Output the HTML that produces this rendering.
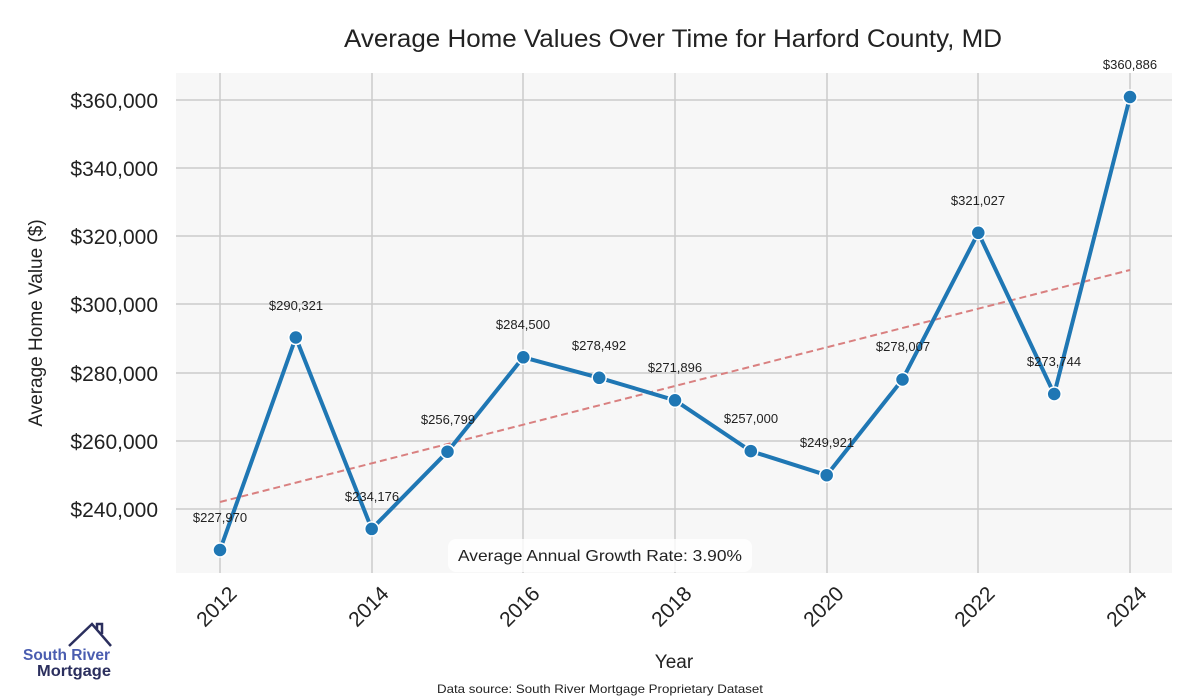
<!DOCTYPE html>
<html><head><style>body{margin:0;background:#fff}svg{display:block}</style></head><body>
<svg width="1200" height="700" xmlns="http://www.w3.org/2000/svg" font-family="Liberation Sans, sans-serif">
<rect width="1200" height="700" fill="#fff"/>
<rect x="176" y="73" width="996" height="500" fill="#f7f7f7"/>
<g stroke="#cccccc" stroke-width="1.5">
<line x1="220" y1="73" x2="220" y2="573"/><line x1="372" y1="73" x2="372" y2="573"/><line x1="523" y1="73" x2="523" y2="573"/><line x1="675" y1="73" x2="675" y2="573"/><line x1="827" y1="73" x2="827" y2="573"/><line x1="978" y1="73" x2="978" y2="573"/><line x1="1130" y1="73" x2="1130" y2="573"/>
<line x1="176" y1="100" x2="1172" y2="100"/><line x1="176" y1="168" x2="1172" y2="168"/><line x1="176" y1="236" x2="1172" y2="236"/><line x1="176" y1="304" x2="1172" y2="304"/><line x1="176" y1="373" x2="1172" y2="373"/><line x1="176" y1="441" x2="1172" y2="441"/><line x1="176" y1="509" x2="1172" y2="509"/>
</g>
<g font-size="21" fill="#222" text-anchor="end">
<text x="158" y="108">$360,000</text><text x="158" y="176">$340,000</text><text x="158" y="244">$320,000</text><text x="158" y="312">$300,000</text><text x="158" y="381">$280,000</text><text x="158" y="449">$260,000</text><text x="158" y="517">$240,000</text>
</g>
<g font-size="21" fill="#222" text-anchor="end">
<text transform="translate(238,595) rotate(-45)">2012</text>
<text transform="translate(390,595) rotate(-45)">2014</text>
<text transform="translate(541,595) rotate(-45)">2016</text>
<text transform="translate(693,595) rotate(-45)">2018</text>
<text transform="translate(845,595) rotate(-45)">2020</text>
<text transform="translate(996,595) rotate(-45)">2022</text>
<text transform="translate(1148,595) rotate(-45)">2024</text>
</g>
<text x="674" y="668" font-size="19" fill="#222" text-anchor="middle">Year</text>
<text transform="translate(42,323) rotate(-90)" font-size="19" fill="#222" text-anchor="middle">Average Home Value ($)</text>
<text x="344" y="47" font-size="25" fill="#222" textLength="658" lengthAdjust="spacingAndGlyphs">Average Home Values Over Time for Harford County, MD</text>
<text x="437" y="693" font-size="12" fill="#222" textLength="326" lengthAdjust="spacingAndGlyphs">Data source: South River Mortgage Proprietary Dataset</text>
<line x1="220" y1="502" x2="1130" y2="270" stroke="#d98080" stroke-width="2" stroke-dasharray="7,4"/>
<polyline fill="none" stroke="#1f77b4" stroke-width="4" stroke-linejoin="round" points="220,550 295.8,337.5 371.7,528.9 447.5,451.7 523.3,357.3 599.2,377.8 675,400.3 750.8,451.1 826.7,475.2 902.5,379.5 978.3,232.8 1054.2,394 1130,97"/>
<g fill="#1f77b4" stroke="#fff" stroke-width="1.5">
<circle cx="220" cy="550" r="7"/><circle cx="295.8" cy="337.5" r="7"/><circle cx="371.7" cy="528.9" r="7"/><circle cx="447.5" cy="451.7" r="7"/><circle cx="523.3" cy="357.3" r="7"/><circle cx="599.2" cy="377.8" r="7"/><circle cx="675" cy="400.3" r="7"/><circle cx="750.8" cy="451.1" r="7"/><circle cx="826.7" cy="475.2" r="7"/><circle cx="902.5" cy="379.5" r="7"/><circle cx="978.3" cy="232.8" r="7"/><circle cx="1054.2" cy="394" r="7"/><circle cx="1130" cy="97" r="7"/>
</g>
<g font-size="13" fill="#222" text-anchor="middle">
<text x="220" y="522">$227,970</text><text x="296" y="310">$290,321</text><text x="372" y="501">$234,176</text><text x="448" y="424">$256,799</text><text x="523" y="329">$284,500</text><text x="599" y="350">$278,492</text><text x="675" y="372">$271,896</text><text x="751" y="423">$257,000</text><text x="827" y="447">$249,921</text><text x="903" y="351">$278,007</text><text x="978" y="205">$321,027</text><text x="1054" y="366">$273,744</text><text x="1130" y="69">$360,886</text>
</g>
<rect x="448" y="539" width="304" height="33" rx="8" fill="#fff" fill-opacity="0.8"/>
<text x="458" y="561" font-size="16" fill="#222" textLength="284" lengthAdjust="spacingAndGlyphs">Average Annual Growth Rate: 3.90%</text>
<polyline points="69,646 92,624 111,646" fill="none" stroke="#2b2f5e" stroke-width="2.5"/>
<polyline points="97,629 97,624 102,624 102,634" fill="none" stroke="#2b2f5e" stroke-width="2.5"/>
<text x="23" y="660" font-size="16" font-weight="bold" fill="#4a5db0" textLength="87" lengthAdjust="spacingAndGlyphs">South River</text>
<text x="37" y="676" font-size="16" font-weight="bold" fill="#2b2f5e" textLength="74" lengthAdjust="spacingAndGlyphs">Mortgage</text>
</svg>
</body></html>
